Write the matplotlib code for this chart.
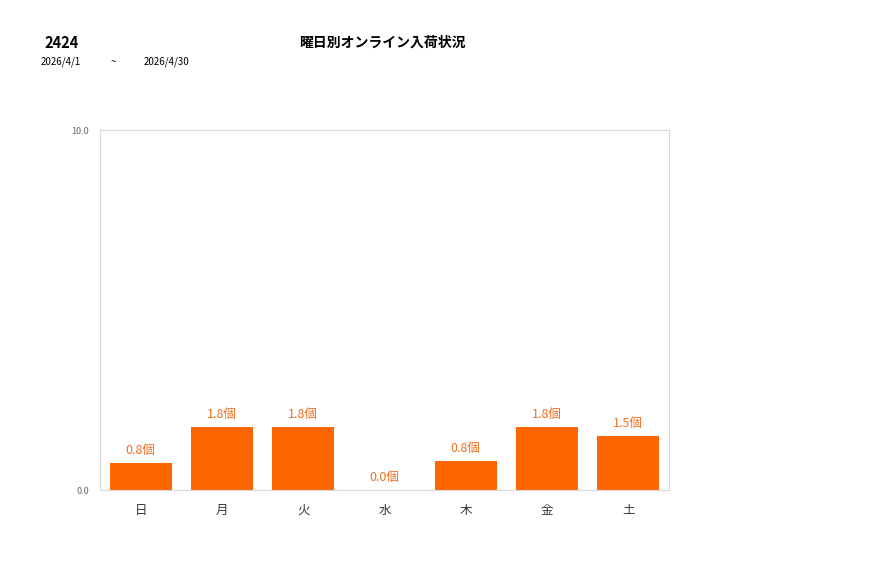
import matplotlib
matplotlib.use("Agg")
import matplotlib.pyplot as plt

plt.rcParams['font.family'] = ['Noto Sans CJK JP', 'DejaVu Sans']

days = ['日', '月', '火', '水', '木', '金', '土']
values = [0.75, 1.75, 1.75, 0.0, 0.8, 1.75, 1.5]
code = '2424'
title = '曜日別オンライン入荷状況'
date_from = '2026/4/1'
date_to = '2026/4/30'

W, H = 877, 578
fig = plt.figure(figsize=(W / 100, H / 100), dpi=100)
ax = fig.add_axes([100 / W, 1 - 490 / H, 569 / W, 360 / H])

bar_color = '#ff6600'
x = range(len(days))
ax.bar(x, values, width=0.76, color=bar_color)
for i, v in zip(x, values):
    ax.text(i, v + 0.18, '%.1f個' % v, ha='center', va='bottom',
            fontsize=9, color='#f07020')

ax.set_xlim(-0.5, len(days) - 0.5)
ax.set_ylim(0, 10)
ax.set_yticks([0, 10])
ax.set_yticklabels(['0.0', '10.0'], fontsize=6.5, color='#666666')
ax.set_xticks(list(x))
ax.set_xticklabels(days, fontsize=9, color='#333333')
ax.tick_params(axis='both', length=0)
ax.tick_params(axis='x', pad=10)
ax.tick_params(axis='y', pad=8)
for s in ax.spines.values():
    s.set_color('#d8d8d8')
    s.set_linewidth(0.8)

fig.text(44 / W, 1 - 43 / H, code, fontsize=10.5, fontweight='semibold', va='center', ha='left')
fig.text(382 / W, 1 - 43 / H, title, fontsize=10, fontweight='semibold', va='center', ha='center')
fig.text(41 / W, 1 - 62 / H, date_from, fontsize=7, va='center', ha='left')
fig.text(111 / W, 1 - 62 / H, '~', fontsize=7, va='center', ha='left')
fig.text(144 / W, 1 - 62 / H, date_to, fontsize=7, va='center', ha='left')

fig.savefig('out.png', dpi=100)
